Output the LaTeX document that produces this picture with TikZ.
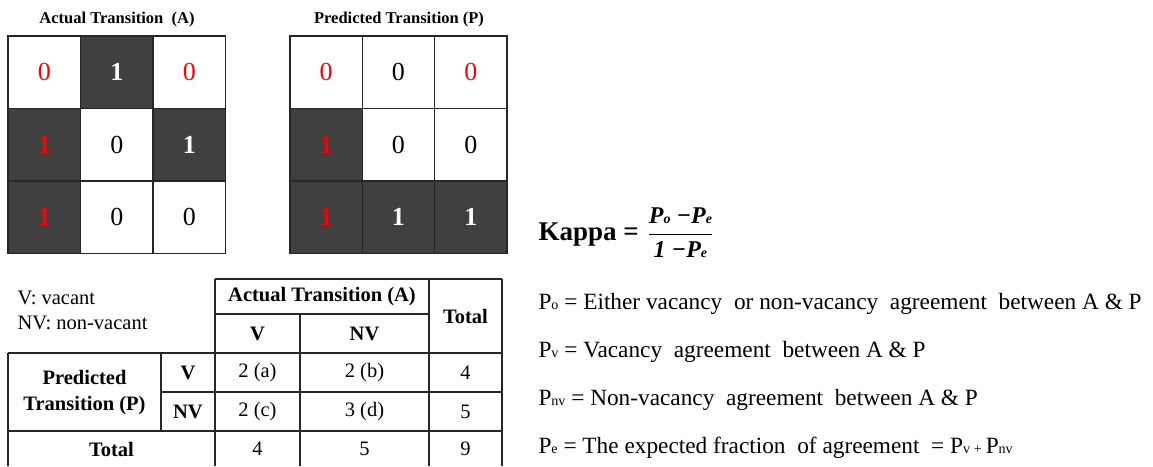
\documentclass[tikz,border=0pt]{standalone}
\usepackage{fontspec}
\setmainfont{Liberation Serif}
\usetikzlibrary{positioning}

\definecolor{tgray}{HTML}{404040}
\newcommand\fs[1]{\fontsize{#1}{#1}\selectfont}
\newcommand\lowsc[1]{{\fontsize{14}{14}\selectfont #1}}

\begin{document}
\begin{tikzpicture}[x=1pt,y=-1pt,
  cell/.style={draw=black!85,line width=1.2pt,minimum size=72.5pt,inner sep=0pt,font=\fs{26}},
  lite/.style={cell,fill=white},
  lred/.style={cell,fill=white,text=red},
  dark/.style={cell,fill=tgray,text=white,font=\fs{26}\bfseries},
  dred/.style={cell,fill=tgray,text=red,font=\fs{26}\bfseries},
  gtitle/.style={font=\fs{16.5}\bfseries},
  tab/.style={line width=1.2pt,draw=black!85},
  ttxt/.style={font=\fs{20.5}},
  thead/.style={font=\fontsize{20.5}{26}\selectfont\bfseries,align=center},
  eq/.style={anchor=base west,font=\fs{23.3}}
]
\useasboundingbox (0,0) rectangle (1153,466);

% ---- grila A (actual) ----
\foreach \r/\c/\st/\v in {1/1/lred/0,1/2/dark/1,1/3/lred/0,
                          2/1/dred/1,2/2/lite/0,2/3/dark/1,
                          3/1/dred/1,3/2/lite/0,3/3/lite/0}
  \node[\st] (a\r\c) at ({8+72.5*(\c-0.5)},{36+72.5*(\r-0.5)}) {\v};
\node[gtitle] (titA) at (117,20) {Actual Transition~ (A)};

% ---- grila P (predicted) ----
\foreach \r/\c/\st/\v in {1/1/lred/0,1/2/lite/0,1/3/lred/0,
                          2/1/dred/1,2/2/lite/0,2/3/lite/0,
                          3/1/dred/1,3/2/dark/1,3/3/dark/1}
  \node[\st] (p\r\c) at ({290+72.3*(\c-0.5)},{36+72.5*(\r-0.5)}) {\v};
\node[gtitle] (titP) at (399,20) {Predicted Transition (P)};

% ---- tabelul de contingenta ----
\draw[tab] (215,279) -- (502,279);
\draw[tab] (215,314) -- (429,314);
\draw[tab] (8,353) -- (502,353);
\draw[tab] (161,392) -- (502,392);
\draw[tab] (8,431) -- (502,431);
\foreach \x in {215,429,502}
  \draw[tab] (\x,279) -- (\x,466);
\draw[tab] (300,314) -- (300,466);
\draw[tab] (8,353) -- (8,466);
\draw[tab] (161,353) -- (161,431);

\node[ttxt,anchor=west] (leg1) at (14,298) {V: vacant};
\node[ttxt,anchor=west] (leg2) at (14,323) {NV: non-vacant};

\node[thead] (hA) at (322,297) {Actual Transition (A)};
\node[thead] (hV) at (257.5,334) {V};
\node[thead] (hNV) at (364.5,334) {NV};
\node[thead] (hT) at (465.5,316) {Total};
\node[thead] (hP) at (84.5,392.5) {Predicted\\Transition (P)};
\node[thead] (rV) at (188,373) {V};
\node[thead] (rNV) at (188,411.5) {NV};

\node[ttxt] (va) at (257.5,373) {2 (a)};
\node[ttxt] (vb) at (364.5,373) {2 (b)};
\node[ttxt] (vt) at (465.5,373) {4};
\node[ttxt] (nc) at (257.5,411.5) {2 (c)};
\node[ttxt] (nd) at (364.5,411.5) {3 (d)};
\node[ttxt] (nt) at (465.5,411.5) {5};
\node[thead] (tT) at (111.5,449) {Total};
\node[ttxt] (tv) at (257.5,449) {4};
\node[ttxt] (tn) at (364.5,449) {5};
\node[ttxt] (tt) at (465.5,449) {9};

% ---- formula kappa ----
\node[anchor=base west,font=\fs{27}\bfseries] (kappa) at (535,240)
  {Kappa =\hspace{9pt}$\displaystyle\frac{\hbox{\fs{24}\bfseries\itshape P\lowsc{o}\ −P\lowsc{e}}}
                              {\hbox{\fs{24}\bfseries\itshape 1\ −P\lowsc{e}}}$};

\node[eq] (po) at (535,309) {P\lowsc{o} = Either vacancy~ or non-vacancy~ agreement~ between A \& P};
\node[eq] (pv) at (535,357) {P\lowsc{v} = Vacancy~ agreement~ between A \& P};
\node[eq] (pnv) at (535,405) {P\lowsc{nv} = Non-vacancy~ agreement~ between A \& P};
\node[eq] (pe) at (535,453) {P\lowsc{e} = The expected fraction~ of agreement~ = P\lowsc{v}\,\lowsc{+}\,P\lowsc{nv}};

\end{tikzpicture}
\end{document}
